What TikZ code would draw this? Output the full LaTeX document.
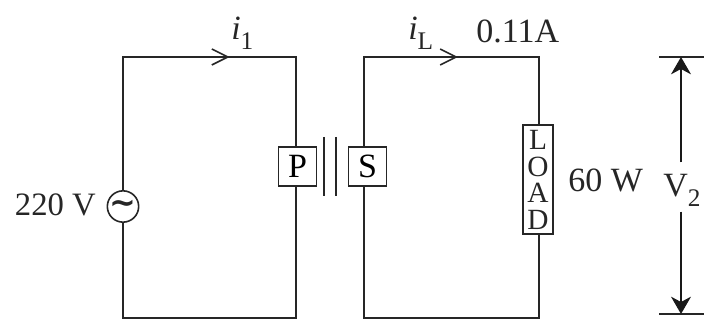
\documentclass[tikz,border=0pt]{standalone}
\usepackage{fontspec}
\setmainfont{Liberation Serif}
\newfontfamily\symfont{DejaVu Sans}
\usetikzlibrary{arrows.meta,decorations.markings}
\newcommand{\sbs}[1]{\raisebox{-7.5pt}{\fontsize{19}{19}\selectfont #1}}
\tikzset{
  x=0.75pt,y=-0.75pt,
  wire/.style={draw=black!85,line width=1.2pt},
  box/.style={draw=black!85,line width=1.2pt,fill=white,minimum width=28.5pt,minimum height=29pt,inner sep=0pt,font=\fontsize{25.5}{25.5}\selectfont},
  lbl/.style={inner sep=0pt,text=black!85,font=\fontsize{25.5}{25.5}\selectfont},
  chevron/.style={postaction={decorate,decoration={markings,mark=at position #1 with {\arrow{Straight Barb[length=12pt,width=12pt,line width=1.2pt]}}}}},
  dimarrow/.style={draw=black!90,line width=1pt,-{Stealth[length=13pt,width=15pt,inset=4pt]}}
}
\begin{document}
\begin{tikzpicture}
\useasboundingbox (0,0) rectangle (704,320);
% anchors
\coordinate (tl1) at (123,57);
\coordinate (tr1) at (296,57);
\coordinate (bl1) at (123,318);
\coordinate (br1) at (296,318);
\coordinate (tl2) at (364,57);
\coordinate (tr2) at (539,57);
\coordinate (bl2) at (364,318);
\coordinate (br2) at (539,318);
\coordinate (v1) at (659,57);
\coordinate (v2) at (704,57);
\coordinate (v3) at (659,314);
\coordinate (v4) at (704,314);
\coordinate (vt) at (681,57);
\coordinate (vb) at (681,314);
\coordinate (p1) at (324,137);
\coordinate (p2) at (324,196);
\coordinate (p3) at (336,137);
\coordinate (p4) at (336,196);
% components
\node[circle,draw=black!85,line width=1.2pt,minimum size=23.5pt,inner sep=0pt] (src) at (123,206.5) {};
\node[inner sep=0pt,text=black!85,font=\symfont\bfseries\fontsize{24}{24}\selectfont] at (123,206.5) {∼};
\node[box] (P) at (297.5,166.5) {P};
\node[box] (S) at (367.5,166.5) {S};
\node[box,minimum width=22.5pt,minimum height=81.5pt] (load) at (538,179.5) {};
\node[inner sep=0pt,text=black!85,font=\fontsize{22}{20}\selectfont,align=center] (loadtext) at (538,180) {L\\O\\A\\D};
% wires
\draw[wire,chevron=0.606] (src.north) -- (tl1) -- (tr1) -- (tr1 |- P.north);
\draw[wire] (src.south) -- (bl1) -- (br1) -- (br1 |- P.south);
\draw[wire,chevron=0.5526] (S.north -| tl2) -- (tl2) -- (tr2) -- (tr2 |- load.north);
\draw[wire] (S.south -| tl2) -- (bl2) -- (br2) -- (br2 |- load.south);
\draw[wire,line width=1pt] (p1) -- (p2);
\draw[wire,line width=1pt] (p3) -- (p4);
% voltage bracket
\draw[wire,line width=1pt] (v1) -- (v2);
\draw[wire,line width=1pt] (v3) -- (v4);
\node[lbl,anchor=center] (V) at (681,187) {\phantom{V}\rule{0pt}{36pt}};
\draw[dimarrow] (V.north) -- (vt);
\draw[dimarrow] (V.south) -- (vb);
% labels
\node[lbl,anchor=base west] at (663,197) {V\sbs{2}};
\node[lbl,anchor=base east,font=\fontsize{24.5}{24.5}\selectfont] at (96,216) {220 V};
\node[lbl,anchor=base west] at (568,192) {60 W};
\node[lbl,anchor=base west] at (476,43) {0.11A};
\node[lbl,anchor=base west] at (231,40) {\textit{i}\sbs{1}};
\node[lbl,anchor=base west] at (408,40) {\textit{i}\sbs{L}};
\end{tikzpicture}
\end{document}
